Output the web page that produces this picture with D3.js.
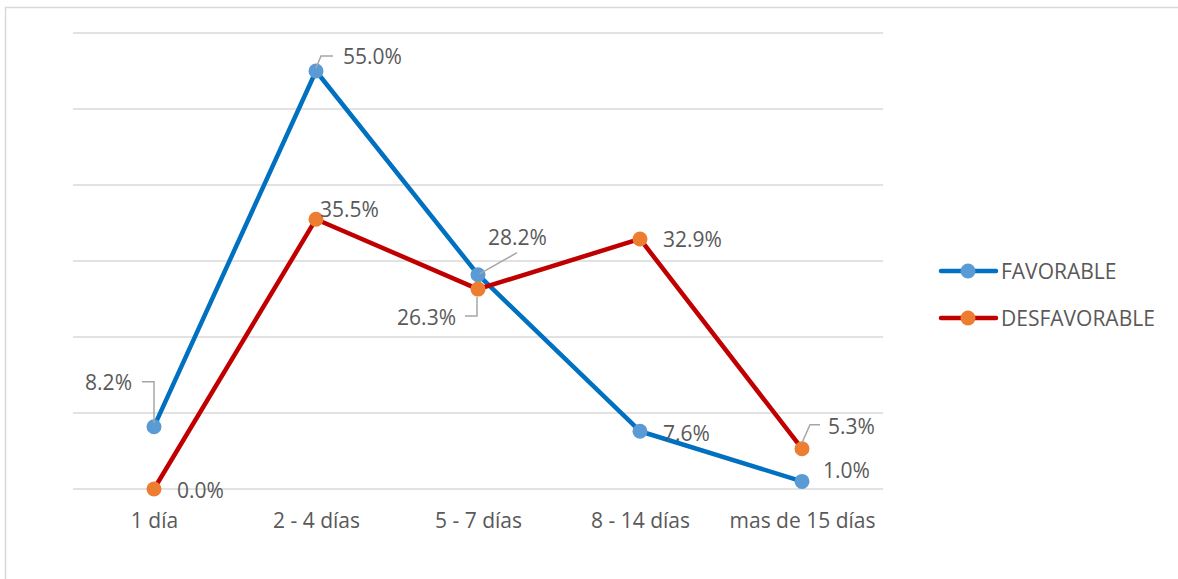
<!DOCTYPE html>
<html>
<head>
<meta charset="utf-8">
<script src="https://cdn.jsdelivr.net/npm/d3@7"></script>
<style>
  html, body { margin: 0; padding: 0; background: #fff; }
  svg { display: block; }
  text { font-family: "Open Sans", Lato, sans-serif; fill: #595959; }
</style>
</head>
<body>
<svg id="chart" width="1178" height="579"></svg>
<script>
(function () {
const categories = ["1 día", "2 - 4 días", "5 - 7 días", "8 - 14 días", "mas de 15 días"];
const favorable = [8.2, 55.0, 28.2, 7.6, 1.0];
const desfavorable = [0.0, 35.5, 26.3, 32.9, 5.3];
const seriesNames = ["FAVORABLE", "DESFAVORABLE"];
const yTicks = [0, 10, 20, 30, 40, 50, 60];

// label layout (offsets from point, in px) - layout only
const labelLayout = [
  [
    { dx: -22, dy: -44, anchor: "end", leader: [[-12,-45],[0,-45],[0,-4]] },
    { dx: 27, dy: -14, anchor: "start", leader: [[0,-3],[5,-15],[17,-15]] },
    { dx: 10, dy: -37, anchor: "start", leader: [[2,-1],[39,-22]] },
    { dx: 23, dy: 2, anchor: "start" },
    { dx: 21, dy: -11, anchor: "start" }
  ],
  [
    { dx: 23, dy: 2, anchor: "start" },
    { dx: 4, dy: -10, anchor: "start" },
    { dx: -22, dy: 29, anchor: "end", leader: [[-13,27],[-1,27],[-1,8]] },
    { dx: 23, dy: 1, anchor: "start" },
    { dx: 26, dy: -22, anchor: "start", leader: [[0,-6],[8,-24],[18,-24]] }
  ]
];

const FONT = "21px";
const lineColors = ["#0070C0", "#C00000"];
const markerColors = ["#5B9BD5", "#ED7D31"];
const svg = d3.select("#chart");

// outer frame
svg.append("rect").attr("x", 5.5).attr("y", 7.5).attr("width", 1300).attr("height", 700)
  .attr("fill", "none").attr("stroke", "#D9D9D9").attr("stroke-width", 1.5);

const plotLeft = 73, plotRight = 883, plotTop = 33, plotBottom = 489;
const x = d3.scalePoint().domain(categories).range([154, 802]);
const y = d3.scaleLinear().domain([0, 60]).range([plotBottom, plotTop]);

// gridlines
svg.append("g").selectAll("line").data(yTicks).join("line")
  .attr("x1", plotLeft).attr("x2", plotRight)
  .attr("y1", d => y(d)).attr("y2", d => y(d))
  .attr("stroke", "#D9D9D9").attr("stroke-width", 1.5);

// x axis labels
const xAxis = d3.axisBottom(x).tickSize(0).tickPadding(0);
const gx = svg.append("g").attr("transform", `translate(0,${plotBottom})`).call(xAxis);
gx.select(".domain").remove();
gx.selectAll("text").attr("y", 32).attr("dy", "0.35em")
  .style("font-size", FONT).style("font-family", "'Open Sans', Lato, sans-serif").attr("fill", "#595959");

const allSeries = [favorable, desfavorable];
const line = d3.line().x((d, i) => x(categories[i])).y(d => y(d));

allSeries.forEach((vals, s) => {
  svg.append("path").datum(vals).attr("d", line)
    .attr("fill", "none").attr("stroke", lineColors[s]).attr("stroke-width", 4.5)
    .attr("stroke-linejoin", "round");
});
allSeries.forEach((vals, s) => {
  svg.append("g").selectAll("circle").data(vals).join("circle")
    .attr("cx", (d, i) => x(categories[i])).attr("cy", d => y(d))
    .attr("r", 7.5).attr("fill", markerColors[s]);
});

// leaders and labels
allSeries.forEach((vals, s) => {
  vals.forEach((v, i) => {
    const px = x(categories[i]), py = y(v);
    const L = labelLayout[s][i];
    if (L.leader) {
      svg.append("path")
        .attr("d", d3.line()(L.leader.map(p => [px + p[0], py + p[1]])))
        .attr("fill", "none").attr("stroke", "#A6A6A6").attr("stroke-width", 1.5);
    }
    svg.append("text").attr("x", px + L.dx).attr("y", py + L.dy).attr("dy", "0.35em")
      .attr("text-anchor", L.anchor).style("font-size", FONT)
      .text(v.toFixed(1) + "%");
  });
});

// legend
const legend = svg.append("g");
seriesNames.forEach((name, s) => {
  const ly = 271 + s * 47;
  legend.append("line").attr("x1", 941).attr("x2", 996).attr("y1", ly).attr("y2", ly)
    .attr("stroke", lineColors[s]).attr("stroke-width", 4.5).attr("stroke-linecap", "round");
  legend.append("circle").attr("cx", 968).attr("cy", ly).attr("r", 7.5).attr("fill", markerColors[s]);
  legend.append("text").attr("x", 1001).attr("y", ly + 1).attr("dy", "0.35em")
    .style("font-size", FONT).text(name);
});
})();
</script>
</body>
</html>
